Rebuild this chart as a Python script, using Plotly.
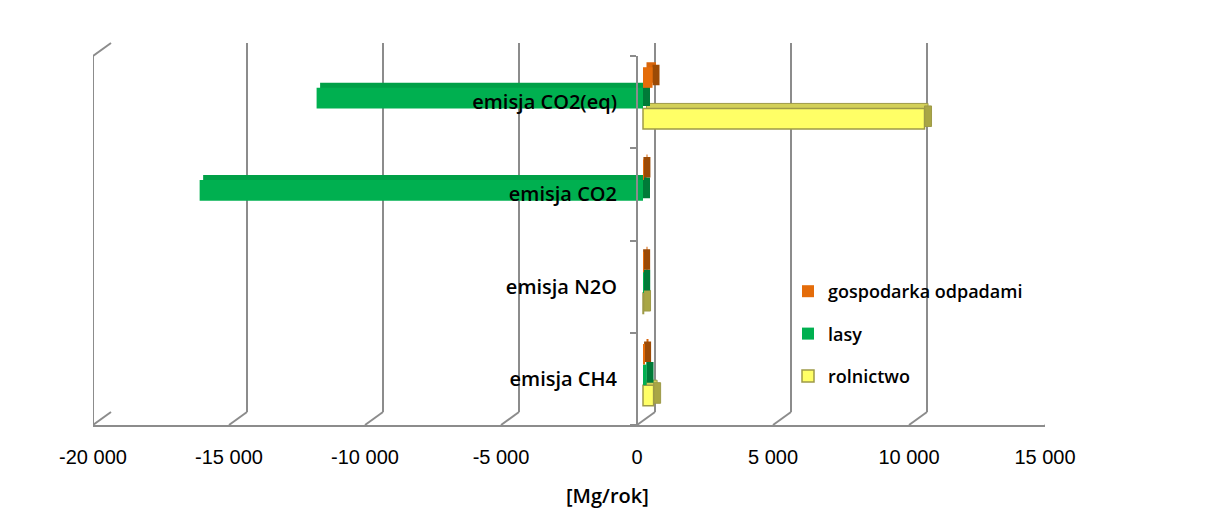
import plotly.graph_objects as go

# ---- data -------------------------------------------------------------
CATEGORIES = ["emisja CH4", "emisja N2O", "emisja CO2", "emisja CO2(eq)"]
ROLNICTWO = [390, 20, None, 10350]
LASY = [130, 8, -16300, -12000]
GOSPODARKA = [40, 5, 15, 350]

X_MIN, X_MAX = -20000, 15000
TICK_VALUES = [-20000, -15000, -10000, -5000, 0, 5000, 10000, 15000]
TICK_TEXT = [f"{v:,}".replace(",", " ") for v in TICK_VALUES]

# ---- styling ----------------------------------------------------------
SERIES = [
    # name, values, front, top, side, outline, legend rank
    ("rolnictwo", ROLNICTWO, "#FFFF66", "#D3D058", "#A9A645", "#9E9A48", 3),
    ("lasy", LASY, "#00B050", "#00A047", "#007A38", None, 2),
    ("gospodarka odpadami", GOSPODARKA, "#E46C0A", "#D8650B", "#9C4A05", None, 1),
]
GRID = "#8C8C8C"
W, H = 1232, 530

# pixel geometry of the pseudo-3D box
PLOT_L, PLOT_R, PLOT_T, PLOT_B = 93, 1063, 43, 425
PW, PH = PLOT_R - PLOT_L, PLOT_B - PLOT_T
DEPTH_X, DEPTH_Y = 18, 13            # back wall offset
FACE_W, FACE_H = PW - DEPTH_X, PH - DEPTH_Y
BAR_X, BAR_Y = 6, 4                  # bar front faces sit a little inside the box
BAR_DX, BAR_DY = 7, 5                # depth of each bar

UNITS_PER_PX = (X_MAX - X_MIN) / FACE_W


def dom(dx, dy):
    return dict(domain=[dx / PW, (dx + FACE_W) / PW]), dict(domain=[dy / PH, (dy + FACE_H) / PH])


fig = go.Figure()

# back wall (gridlines only)
fig.add_trace(go.Scatter(x=[None], y=[None], xaxis="x", yaxis="y",
                         showlegend=False, hoverinfo="skip"))

# top faces
for name, vals, front, top, side, outline, rank in SERIES:
    fig.add_trace(go.Bar(
        y=CATEGORIES, x=vals, orientation="h", xaxis="x2", yaxis="y2",
        marker=dict(color=top, line=dict(color=outline or top, width=1 if outline else 0)),
        showlegend=False, hoverinfo="skip"))

# end faces (at the right-hand end of each box)
depth_units = BAR_DX * UNITS_PER_PX
for name, vals, front, top, side, outline, rank in SERIES:
    fig.add_trace(go.Bar(
        y=CATEGORIES,
        x=[None if v is None else depth_units for v in vals],
        base=[None if v is None else max(v, 0) for v in vals],
        orientation="h", xaxis="x3", yaxis="y3",
        marker=dict(color=side, line=dict(color=outline or side, width=1 if outline else 0)),
        showlegend=False, hoverinfo="skip"))

# front faces
for name, vals, front, top, side, outline, rank in SERIES:
    fig.add_trace(go.Bar(
        y=CATEGORIES, x=vals, orientation="h", xaxis="x4", yaxis="y4",
        name=name, legendgroup=name, legendrank=rank,
        marker=dict(color=front, line=dict(color=outline or front, width=1.5 if outline else 0)),
        hovertemplate="%{y}: %{x}<extra>" + name + "</extra>"))

# front plane: value axis + category axis
fig.add_trace(go.Scatter(x=[0] * len(CATEGORIES), y=CATEGORIES, mode="markers",
                         marker=dict(opacity=0), xaxis="x5", yaxis="y5",
                         showlegend=False, hoverinfo="skip"))

hidden = dict(visible=False, range=[X_MIN, X_MAX])
cat_hidden = dict(visible=False, type="category", categoryarray=CATEGORIES,
                  range=[-0.5, len(CATEGORIES) - 0.5])

xb, yb = dom(DEPTH_X, DEPTH_Y)
xt, yt = dom(BAR_X + BAR_DX / 2, BAR_Y + BAR_DY)
xs, ys = dom(BAR_X, BAR_Y + BAR_DY / 2)
xf, yf = dom(BAR_X, BAR_Y)
xa, ya = dom(0, 0)

zero_pos = xa["domain"][0] + (0 - X_MIN) / (X_MAX - X_MIN) * (xa["domain"][1] - xa["domain"][0])

layout_axes = dict(
    xaxis=dict(**xb, anchor="y", range=[X_MIN, X_MAX], tickvals=TICK_VALUES,
               showticklabels=False, ticks="", showgrid=True, gridcolor=GRID,
               gridwidth=2, zeroline=False, showline=False),
    yaxis=dict(**yb, anchor="x", visible=False, range=[0, 1]),
    xaxis2=dict(**xt, anchor="y2", **hidden),
    yaxis2=dict(**yt, anchor="x2", **cat_hidden),
    xaxis3=dict(**xs, anchor="y3", **hidden),
    yaxis3=dict(**ys, anchor="x3", **cat_hidden),
    xaxis4=dict(**xf, anchor="y4", **hidden),
    yaxis4=dict(**yf, anchor="x4", **cat_hidden),
    xaxis5=dict(**xa, anchor="y5", range=[X_MIN, X_MAX], tickvals=TICK_VALUES,
                ticktext=TICK_TEXT, ticks="", showgrid=False, zeroline=False,
                showline=True, linecolor=GRID, linewidth=2, ticklabelstandoff=13,
                tickfont=dict(family="Liberation Sans", size=20, color="#000")),
    yaxis5=dict(**ya, anchor="free", position=zero_pos, type="category",
                categoryarray=CATEGORIES, range=[-0.5, len(CATEGORIES) - 0.5],
                showline=True, linecolor=GRID, linewidth=2, ticks="outside",
                tickson="boundaries", ticklen=6, tickwidth=2, tickcolor=GRID,
                showgrid=False, zeroline=False, ticklabelstandoff=15,
                tickfont=dict(family="Open Sans", size=20, weight=600, color="#000")),
)

# floor connectors from the front edge to the back wall
shapes = []
for v in TICK_VALUES:
    shapes.append(dict(type="line", xref="x5", xsizemode="pixel", xanchor=v, x0=0, x1=DEPTH_X,
                       yref="paper", ysizemode="pixel", yanchor=0, y0=0, y1=DEPTH_Y,
                       line=dict(color=GRID, width=2)))
# left wall: front edge and top edge
shapes.append(dict(type="line", xref="x5", x0=X_MIN, x1=X_MIN, yref="y5 domain", y0=0, y1=1,
                   line=dict(color=GRID, width=2)))
shapes.append(dict(type="line", xref="x5", xsizemode="pixel", xanchor=X_MIN, x0=0, x1=DEPTH_X,
                   yref="y5 domain", ysizemode="pixel", yanchor=1, y0=0, y1=DEPTH_Y,
                   line=dict(color=GRID, width=2)))

fig.update_layout(
    width=W, height=H,
    margin=dict(l=PLOT_L, r=W - PLOT_R, t=PLOT_T, b=H - PLOT_B),
    paper_bgcolor="white", plot_bgcolor="rgba(0,0,0,0)",
    font=dict(family="Open Sans", color="#000"),
    barmode="group", bargap=0.33, bargroupgap=0,
    shapes=shapes,
    annotations=[dict(text="[Mg/rok]", xref="paper", yref="paper",
                      x=(607 - PLOT_L) / PW, y=(PLOT_B - 495) / PH,
                      xanchor="center", yanchor="middle", showarrow=False,
                      font=dict(family="Open Sans", size=20, weight=600, color="#000"))],
    legend=dict(x=(788 - PLOT_L) / PW, y=(PLOT_B - 273) / PH, xanchor="left", yanchor="top",
                traceorder="grouped", tracegroupgap=16,
                font=dict(family="Open Sans", size=18, weight=600, color="#000"),
                bgcolor="rgba(0,0,0,0)"),
    **layout_axes,
)

fig.write_html("out.html")
